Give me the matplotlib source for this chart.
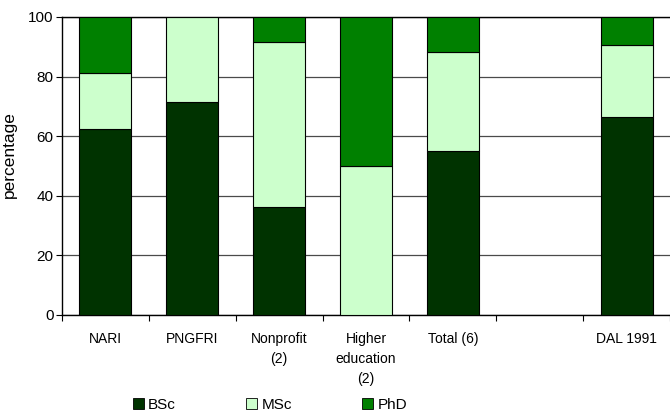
import matplotlib
matplotlib.use("Agg")
import matplotlib.pyplot as plt
import numpy as np

plt.rcParams['font.family'] = ['Liberation Sans', 'DejaVu Sans']
fs = 10

categories = ["NARI", "PNGFRI", "Nonprofit\n(2)", "Higher\neducation\n(2)", "Total (6)", "", "DAL 1991"]
bsc = [62.5, 71.4, 36.2, 0.0, 55.0, 0.0, 66.4]
msc = [18.7, 28.6, 55.4, 50.0, 33.2, 0.0, 24.3]
phd = [18.8, 0.0, 8.4, 50.0, 11.8, 0.0, 9.3]
present = [True, True, True, True, True, False, True]

colors = {"BSc": "#003300", "MSc": "#CCFFCC", "PhD": "#008000"}

fig = plt.figure(figsize=(6.7, 4.13), dpi=100)
ax = fig.add_axes([62 / 670, 1 - 315 / 413, 608 / 670, 298 / 413])

x = np.arange(len(categories))
w = 0.6
mask = np.array(present)
xs = x[mask]
b = np.array(bsc)[mask]
m = np.array(msc)[mask]
p = np.array(phd)[mask]
ax.bar(xs, b, w, color=colors["BSc"], edgecolor="black", linewidth=0.8, label="BSc", zorder=3)
ax.bar(xs, m, w, bottom=b, color=colors["MSc"], edgecolor="black", linewidth=0.8, label="MSc", zorder=3)
ax.bar(xs, p, w, bottom=b + m, color=colors["PhD"], edgecolor="black", linewidth=0.8, label="PhD", zorder=3)

ax.set_xlim(-0.5, len(categories) - 0.5)
ax.set_ylim(0, 100)
ax.set_yticks([0, 20, 40, 60, 80, 100])
ax.yaxis.grid(True, color="#4a4a4a", linewidth=0.9, zorder=0)
ax.set_axisbelow(True)

ax.set_xticks(np.arange(len(categories) + 1) - 0.5, minor=False)
ax.set_xticklabels([])
ax.set_xticks(x, minor=True)
ax.set_xticklabels(categories, minor=True, fontsize=fs, va="top", linespacing=1.55)
ax.tick_params(axis="x", which="minor", length=0, pad=12)
ax.tick_params(axis="x", which="major", length=4, direction="out", width=0.8)
ax.tick_params(axis="y", length=4, direction="out", labelsize=11, width=0.8, pad=2)

ax.spines["right"].set_visible(False)
ax.spines["top"].set_color("black")
for s in ["left", "bottom", "top"]:
    ax.spines[s].set_linewidth(1.0)

ax.set_ylabel("percentage", fontsize=12.5)
ax.yaxis.set_label_coords(-0.074, 0.537)

leg = fig.legend(loc="center", bbox_to_anchor=(270 / 670, 1 - 405 / 413), ncol=3, frameon=False,
                 fontsize=11, handlelength=0.7, handleheight=0.7, handletextpad=0.3,
                 columnspacing=4.6)
for h in leg.legend_handles:
    h.set_edgecolor("black")
    h.set_linewidth(0.6)

fig.savefig("out.png", dpi=100)
